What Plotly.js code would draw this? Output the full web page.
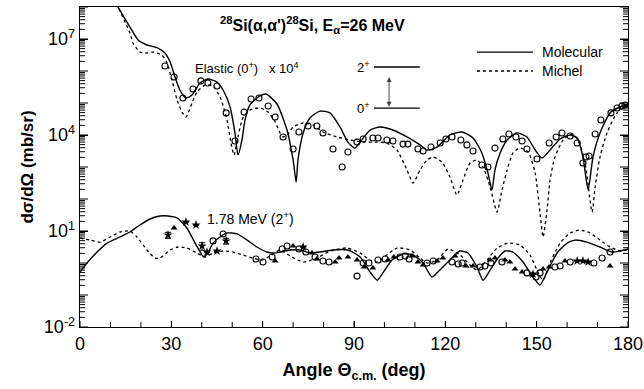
<!DOCTYPE html>
<html><head><meta charset="utf-8">
<script src="https://cdn.plot.ly/plotly-3.0.1.min.js"></script>
<style>html,body{margin:0;padding:0;background:#fff}#chart{width:644px;height:389px}</style>
</head><body><div id="chart"></div>
<script>
// Elastic (0+) x 10^4 — Molecular (solid)
const elMolAngle = [11.0,12.5,16.4,19.1,22.0,25.6,27.9,29.6,31.2,32.8,34.8,36.8,39.4,42.0,45.0,47.0,49.3,50.9,51.9,53.2,54.2,55.8,59.1,61.1,64.7,68.0,70.0,71.0,71.6,73.3,75.5,78.8,82.1,85.4,88.0,90.3,92.0,95.3,98.5,102.8,107.4,111.7,114.0,117.3,121.5,125.5,129.1,132.0,134.0,135.3,136.3,138.0,140.3,143.5,146.8,149.5,151.8,154.4,157.7,161.0,163.3,165.2,166.9,168.5,170.8,174.1,177.4,180];
const elMolXS = [1.9e8,1.0e8,2.37e7,9.3e6,6.5e6,5.2e6,3.65e6,1.91e6,6.5e5,2.55e5,1.43e5,1.78e5,4.2e5,5.6e5,4.5e5,2.55e5,7.5e4,1.16e4,2.37e3,7.0e3,2.94e4,8.7e4,1.66e5,1.91e5,9.3e4,1.43e4,1.66e3,340,1.66e3,1.16e4,3.4e4,5.6e4,4.9e4,1.78e4,6.0e3,3.9e3,6.0e3,1.43e4,1.78e4,1.43e4,8.7e3,4.9e3,3.4e3,4.2e3,1.0e4,1.24e4,8.1e3,2.74e3,650,191,806,2.74e3,7.0e3,1.16e4,8.7e3,3.4e3,1.91e3,3.4e3,7.5e3,1.0e4,8.1e3,2.05e3,191,2.05e3,1.16e4,4.9e4,7.5e4,8.7e4];
// Elastic — Michel (dotted)
const elMicAngle = [11.0,12.5,16.4,17.4,19.7,22.0,24.0,26.9,28.6,30.2,31.9,33.5,34.8,36.8,38.4,41.1,43.7,46.0,48.3,49.6,50.6,51.9,53.5,55.8,59.1,61.8,64.1,65.7,66.7,68.0,70.0,73.3,76.5,79.8,84.4,88.7,93.0,97.6,100.8,104.1,107.4,109.4,111.7,114.0,116.0,118.9,121.5,123.8,125.8,128.1,130.4,132.4,134.7,137.0,138.6,140.3,142.2,144.5,147.2,149.5,151.1,152.1,153.4,154.4,156.0,158.7,161.6,163.6,165.9,168.2,169.2,170.8,173.1,176.4,180];
const elMicXS = [1.9e8,1.0e8,1.54e7,7.5e6,3.9e6,3.65e6,3.9e6,3.16e6,1.78e6,5.2e5,1.24e5,5.2e4,3.65e4,1.0e5,2.2e5,3.65e5,3.4e5,1.54e5,2.94e4,5.6e3,2.37e3,8.7e3,3.4e4,6.0e4,7.0e4,5.2e4,2.55e4,1.16e4,8.7e3,1.0e4,1.78e4,2.37e4,2.05e4,1.24e4,8.7e3,7.0e3,6.0e3,6.0e3,5.6e3,3.4e3,806,316,806,1.66e3,2.05e3,1.43e3,487,133,393,1.33e3,1.66e3,1.0e3,237,39,191,806,2.74e3,3.9e3,2.94e3,650,36.5,6.5,45,393,2.05e3,7.0e3,1.07e4,7.0e3,1.33e3,39,237,2.05e3,1.16e4,4.9e4,8.7e4];
// Elastic — experiment
const elExpAngle = [27.9,30.9,33.8,37.1,39.7,42.0,45.0,48.0,50.9,53.9,56.2,58.8,61.8,64.1,66.7,70.0,71.9,74.9,77.8,79.8,83.1,86.1,88.0,91.0,93.0,96.2,97.9,100.8,102.8,106.1,107.7,111.0,112.7,115.3,118.3,120.2,122.2,125.1,127.1,129.1,132.0,134.0,136.3,138.9,140.9,143.2,145.2,146.8,150.1,154.1,156.4,158.3,161.0,163.3,165.2,166.2,167.2,169.2,171.1,174.4,176.4,178.0,179.0];
const elExpXS = [1.43e6,6.5e5,1.43e5,2.74e5,4.9e5,4.2e5,3.4e5,4.9e4,6.5e3,5.2e4,1.33e5,1.43e5,8.1e4,3.65e4,8.7e3,3.65e3,1.24e4,1.91e4,1.91e4,1.16e4,3.65e3,1.0e3,2.94e3,6.0e3,7.5e3,8.1e3,8.1e3,7.0e3,6.5e3,5.2e3,5.2e3,3.65e3,3.16e3,4.2e3,5.6e3,7.5e3,8.7e3,7.0e3,4.9e3,3.16e3,1.16e3,1.0e3,3.9e3,7.5e3,1.07e4,8.7e3,6.5e3,3.65e3,1.78e3,5.6e3,8.7e3,1.16e4,9.3e3,5.6e3,1.33e3,2.05e3,2.2e3,1.07e4,2.94e4,4.9e4,7.0e4,8.1e4,8.7e4];

// Inelastic 1.78 MeV (2+) — Molecular (solid)
const inMolAngle = [0,2.3,5.6,8.9,13.1,16.4,19.7,23.0,26.3,28.9,31.9,35.1,37.8,39.7,40.7,42.0,43.7,46.0,48.3,51.6,54.9,58.1,61.4,63.4,65.7,69.0,72.3,75.5,78.8,83.1,88.0,92.0,95.3,97.6,99.5,102.5,106.1,109.4,112.7,115.6,118.2,121.5,124.8,127.4,130.4,132.4,134.7,137.3,139.6,142.2,145.5,148.8,151.1,153.4,156.7,160.0,162.6,166.5,170.8,174.8,177.4,180];
const inMolXS = [0.52,1.0,2.2,4.2,6.5,9.3,15.4,23.7,29.4,29.4,25.5,12.4,4.2,2.05,1.54,2.05,4.2,6.5,8.7,8.1,5.2,3.16,2.2,2.05,2.2,2.55,2.55,2.05,2.2,2.55,2.55,1.54,0.52,0.29,0.49,1.24,1.91,1.78,1.0,0.365,0.60,1.24,2.37,2.05,0.75,0.29,0.60,1.43,2.37,2.2,1.07,0.365,0.205,0.52,2.05,4.2,5.2,4.5,3.16,2.2,2.37,2.74];
// Inelastic — Michel (dotted)
const inMicAngle = [0,3.3,6.6,9.9,13.1,16.4,18.7,22.0,24.6,26.3,29.6,32.2,35.1,38.4,41.1,43.7,47.0,50.3,53.5,56.8,59.8,62.4,65.7,69.0,73.3,77.8,82.1,87.7,92.0,95.3,97.6,100.8,104.1,108.4,111.7,114.0,117.3,120.9,124.8,128.1,130.4,133.7,137.0,140.6,144.5,147.8,150.4,152.1,154.4,157.7,161.0,164.2,167.5,170.8,174.1,177.4,180];
const inMicXS = [6.0,5.2,4.5,6.5,9.3,10,6.5,2.55,1.43,1.43,2.55,3.16,2.94,2.05,1.54,2.05,2.37,2.2,1.78,1.43,1.24,1.66,2.55,1.66,1.07,1.43,2.37,2.94,2.05,1.24,1.07,1.78,2.94,2.55,1.43,1.0,1.24,2.74,1.78,0.87,0.60,1.24,2.94,4.2,3.65,1.78,0.52,0.29,1.0,4.2,8.7,10.7,8.7,5.2,3.16,2.37,2.55];
// Inelastic — experiment, three data sets
const inCircAngle = [43.7,47.0,57.8,60.1,63.1,66.4,68.0,71.9,74.2,77.2,79.8,81.8,91.0,93.0,94.9,97.9,100.2,105.1,106.8,108.1,114.0,116.0,122.2,124.2,125.5,131.4,133.0,135.0,138.6,146.8,149.8,151.1,156.0,157.7,161.0,168.8,171.5,174.1];
const inCircXS = [4.9,8.1,1.33,1.07,1.54,2.74,3.4,2.74,2.2,1.54,1.16,1.07,0.39,1.0,1.0,1.24,1.33,1.54,1.66,1.33,1.0,1.16,1.07,0.93,1.0,0.75,0.81,1.0,1.07,0.49,0.365,0.49,0.75,0.81,1.07,1.0,1.43,2.2];
const inTriAngle = [30.9,64.1,70.0,76.2,77.8,83.8,85.1,88.0,91.0,93.3,96.2,101.2,103.1,109.1,111.0,112.7,117.3,119.2,123.2,126.8,129.1,134.7,136.3,139.6,141.2,142.9,145.2,148.5,152.1,154.1,159.3,174.1];
const inTriXS = [12.4,1.16,3.4,2.05,1.33,1.07,1.43,1.54,1.24,0.75,0.70,1.24,1.54,1.66,1.07,0.87,1.16,1.43,1.66,0.81,0.81,1.24,1.43,1.24,1.07,0.65,0.52,0.42,0.65,0.75,1.16,0.81];
const inStarAngle = [28.9,34.8,38.1,40.1,41.7,45.0,48.0,73.3,148.8,163.3,165.2,166.9];
const inStarXS = [7.5,19.1,15.4,3.4,2.2,2.37,4.9,3.16,0.45,1.16,1.16,1.07];
const inStarErr = [1.6,0,0,0.9,0,0,1.0,0,0,0,0,0];

// Axis tick labels
const yTickVals = [0.01, 10, 1e4, 1e7];
const yTickText = ['10<sup>-2</sup>', '10<sup>1</sup>', '10<sup>4</sup>', '10<sup>7</sup>'];
const xTickVals = [0, 30, 60, 90, 120, 150, 180];
const xMinorVals = [10, 20, 40, 50, 70, 80, 100, 110, 130, 140, 160, 170];

const yRange = [-2, 8];
const plotW = 548, plotH = 320;

// minor log tick positions (2..9 x each decade) and every decade
const yMinorVals = [];
for (let d = yRange[0]; d < yRange[1]; d++) for (let m = 2; m <= 9; m++) yMinorVals.push(m * Math.pow(10, d));
const yDecadeVals = [];
for (let d = yRange[0]; d <= yRange[1]; d++) yDecadeVals.push(Math.pow(10, d));

// Tick marks drawn as axis-decoration shapes (paper coordinates)
const tickShapes = [];
const yFrac = v => (Math.log10(v) - yRange[0]) / (yRange[1] - yRange[0]);
const addXTick = (v, len) => tickShapes.push({type: 'line', xref: 'x', yref: 'paper', x0: v, x1: v, y0: 0, y1: len / plotH, line: {color: '#000', width: 1}});
const addYTick = (v, len) => {
  const f = yFrac(v);
  tickShapes.push({type: 'line', xref: 'paper', yref: 'paper', x0: 0, x1: len / plotW, y0: f, y1: f, line: {color: '#000', width: 1}});
  tickShapes.push({type: 'line', xref: 'paper', yref: 'paper', x0: 1 - len / plotW, x1: 1, y0: f, y1: f, line: {color: '#000', width: 1}});
};
xTickVals.forEach(v => addXTick(v, 6));
xMinorVals.forEach(v => addXTick(v, 5));
yMinorVals.forEach(v => addYTick(v, 5));
yDecadeVals.forEach(v => addYTick(v, 8));

const fontFam = 'Liberation Sans, Arial, sans-serif';
const axisFont = {family: fontFam, size: 18, color: '#000'};
const traces = [
  {x: elMolAngle, y: elMolXS, mode: 'lines', line: {color: '#000', width: 1.4, shape: 'spline', smoothing: 0.6}},
  {x: elMicAngle, y: elMicXS, mode: 'lines', line: {color: '#000', width: 1.3, dash: 'dot', shape: 'spline', smoothing: 0.6}},
  {x: elExpAngle, y: elExpXS, mode: 'markers', marker: {symbol: 'circle-open', size: 6, color: '#000', line: {width: 1.1}}},
  {x: inMolAngle, y: inMolXS, mode: 'lines', line: {color: '#000', width: 1.4, shape: 'spline', smoothing: 0.6}},
  {x: inMicAngle, y: inMicXS, mode: 'lines', line: {color: '#000', width: 1.3, dash: 'dot', shape: 'spline', smoothing: 0.6}},
  {x: inCircAngle, y: inCircXS, mode: 'markers', marker: {symbol: 'circle-open', size: 6, color: '#000', line: {width: 1.1}}},
  {x: inTriAngle, y: inTriXS, mode: 'markers', marker: {symbol: 'triangle-up', size: 6, color: '#000'}},
  {x: inStarAngle, y: inStarXS, mode: 'markers', marker: {symbol: 'star', size: 7, color: '#000'},
   error_y: {type: 'data', array: inStarErr, color: '#000', thickness: 1, width: 3}}
];
traces.forEach(t => t.showlegend = false);

const layout = {
  width: 644, height: 389,
  margin: {l: 80, r: 16, t: 7, b: 62},
  paper_bgcolor: '#fff', plot_bgcolor: '#fff',
  font: {family: fontFam, color: '#000'},
  showlegend: false,
  xaxis: {
    range: [0, 180], tickvals: xTickVals, ticks: 'inside', ticklen: 6, tickwidth: 1, tickcolor: '#000',
    showline: true, linecolor: '#000', linewidth: 1.3, mirror: true, showgrid: false, zeroline: false,
    tickfont: axisFont,
    title: {text: '<b>Angle \u0398<sub>c.m.</sub> (deg)</b>', font: {family: fontFam, size: 18, color: '#000'}, standoff: 10}
  },
  yaxis: {
    type: 'log', range: yRange, tickvals: yTickVals, ticktext: yTickText, ticks: 'inside', ticklen: 8, tickwidth: 1, tickcolor: '#000',
    showline: true, linecolor: '#000', linewidth: 1.3, mirror: 'ticks', showgrid: false, zeroline: false,
    tickfont: axisFont,
    title: {text: '<b>d\u03c3/d\u03a9 (mb/sr)</b>', font: {family: fontFam, size: 17, color: '#000'}, standoff: 6}
  },
  shapes: tickShapes.concat([
    {type: 'line', xref: 'paper', yref: 'paper', x0: 0.7245, x1: 0.8266, y0: 0.859, y1: 0.859, line: {color: '#000', width: 1.3}},
    {type: 'line', xref: 'paper', yref: 'paper', x0: 0.7245, x1: 0.8266, y0: 0.80, y1: 0.80, line: {color: '#000', width: 1.3, dash: 'dot'}},
    {type: 'line', xref: 'paper', yref: 'paper', x0: 0.5365, x1: 0.620, y0: 0.8125, y1: 0.8125, line: {color: '#000', width: 1.3}},
    {type: 'line', xref: 'paper', yref: 'paper', x0: 0.5365, x1: 0.620, y0: 0.684, y1: 0.684, line: {color: '#000', width: 1.3}}
  ]),
  annotations: [
    {xref: 'paper', yref: 'paper', x: 0.425, y: 0.944, text: '<b><sup>28</sup>Si(\u03b1,\u03b1\')<sup>28</sup>Si, E<sub>\u03b1</sub>=26 MeV</b>', showarrow: false, font: {size: 16, color: '#000'}, xanchor: 'center', yanchor: 'middle'},
    {xref: 'paper', yref: 'paper', x: 0.839, y: 0.859, text: 'Molecular', showarrow: false, font: {size: 14, color: '#000'}, xanchor: 'left', yanchor: 'middle'},
    {xref: 'paper', yref: 'paper', x: 0.839, y: 0.80, text: 'Michel', showarrow: false, font: {size: 14, color: '#000'}, xanchor: 'left', yanchor: 'middle'},
    {xref: 'paper', yref: 'paper', x: 0.533, y: 0.8125, text: '2<sup>+</sup>', showarrow: false, font: {size: 13, color: '#000'}, xanchor: 'right', yanchor: 'middle'},
    {xref: 'paper', yref: 'paper', x: 0.533, y: 0.684, text: '0<sup>+</sup>', showarrow: false, font: {size: 13, color: '#000'}, xanchor: 'right', yanchor: 'middle'},
    {xref: 'paper', yref: 'paper', axref: 'paper', ayref: 'paper', x: 0.564, y: 0.688, ax: 0.564, ay: 0.808, text: ' ', showarrow: true, arrowhead: 2, arrowside: 'end+start', arrowsize: 1, arrowwidth: 1, arrowcolor: '#444'},
    {xref: 'paper', yref: 'paper', x: 0.206, y: 0.809, text: 'Elastic (0<sup>+</sup>)   x 10<sup>4</sup>', showarrow: false, font: {size: 13, color: '#000'}, xanchor: 'left', yanchor: 'middle'},
    {xref: 'paper', yref: 'paper', x: 0.228, y: 0.341, text: '1.78 MeV (2<sup>+</sup>)', showarrow: false, font: {size: 14, color: '#000'}, xanchor: 'left', yanchor: 'middle'}
  ]
};
Plotly.newPlot('chart', traces, layout, {staticPlot: true, displayModeBar: false});
</script></body></html>
